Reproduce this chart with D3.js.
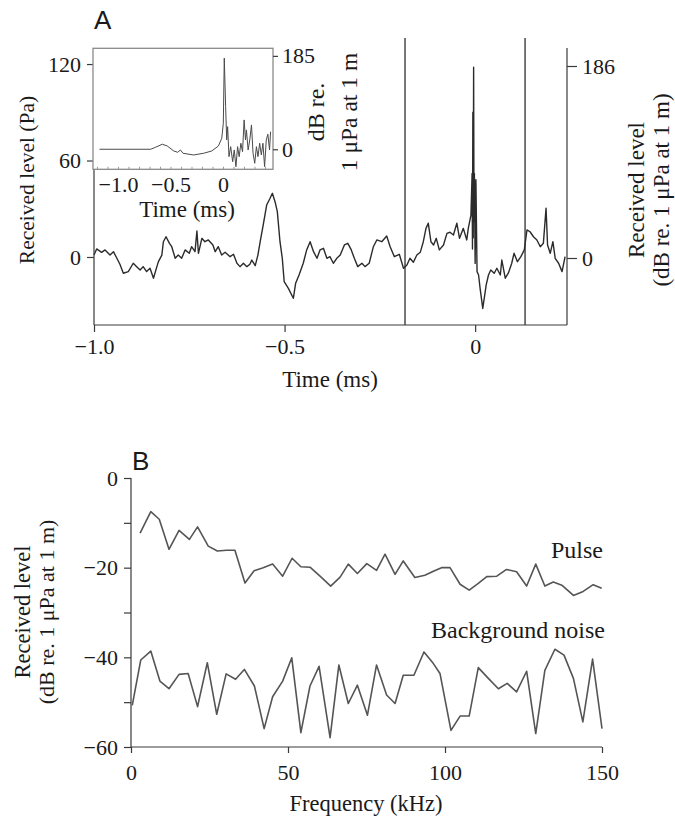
<!DOCTYPE html>
<html>
<head>
<meta charset="utf-8">
<script src="https://cdn.jsdelivr.net/npm/d3@7"></script>
<style>
  html, body { margin: 0; padding: 0; background: #fff; }
  svg { display: block; }
  text { font-family: "Liberation Serif", "Times New Roman", serif; fill: #1a1a1a; }
  text.panel { font-family: "Liberation Sans", Arial, sans-serif; }
</style>
</head>
<body>
<svg id="chart" width="675" height="824"></svg>
<script>
// ---------------- Panel A: waveform ----------------
const timeA = [-1.000,-0.993,-0.980,-0.971,-0.958,-0.949,-0.940,-0.932,-0.923,-0.910,-0.897,-0.888,-0.879,-0.871,-0.862,-0.853,-0.844,-0.835,-0.831,-0.822,-0.818,-0.811,-0.802,-0.796,-0.787,-0.779,-0.770,-0.761,-0.750,-0.744,-0.735,-0.730,-0.726,-0.717,-0.709,-0.700,-0.688,-0.682,-0.674,-0.665,-0.656,-0.643,-0.634,-0.625,-0.617,-0.608,-0.599,-0.591,-0.586,-0.577,-0.570,-0.564,-0.556,-0.547,-0.538,-0.532,-0.525,-0.519,-0.512,-0.506,-0.501,-0.490,-0.477,-0.471,-0.462,-0.451,-0.442,-0.433,-0.424,-0.415,-0.407,-0.398,-0.389,-0.381,-0.372,-0.363,-0.354,-0.343,-0.334,-0.325,-0.317,-0.308,-0.297,-0.289,-0.278,-0.267,-0.258,-0.245,-0.232,-0.223,-0.212,-0.199,-0.188,-0.179,-0.171,-0.162,-0.153,-0.144,-0.136,-0.129,-0.123,-0.116,-0.109,-0.102,-0.094,-0.083,-0.074,-0.066,-0.057,-0.048,-0.041,-0.031,-0.022,-0.018,-0.011,-0.008,-0.007,-0.006,-0.005,-0.004,-0.003,-0.002,0.000,0.002,0.005,0.009,0.013,0.020,0.029,0.035,0.041,0.050,0.057,0.066,0.070,0.079,0.087,0.096,0.102,0.111,0.120,0.129,0.136,0.144,0.153,0.162,0.171,0.179,0.186,0.190,0.197,0.204,0.210,0.219,0.228,0.236];
const levelA = [1.2,5.0,2.9,4.4,1.2,3.3,-0.8,-4.5,-10.1,-9.1,-3.9,-6.0,-8.1,-6.0,-9.1,-7.0,-13.2,-6.0,-2.9,1.2,9.5,12.6,8.5,6.4,-0.8,1.2,-0.8,4.4,2.3,6.4,3.3,16.2,2.3,11.6,9.5,10.6,7.5,3.3,6.4,1.2,2.9,0.2,1.7,-3.9,-6.0,-3.9,-6.0,-4.5,-1.9,-5.4,1.2,9.5,19.9,32.3,36.5,39.6,34.4,28.2,9.5,-0.8,-15.4,-19.5,-25.7,-16.4,-11.2,-3.9,4.4,9.5,3.3,-0.8,4.4,5.4,-0.8,0.2,-3.9,-0.8,1.2,7.5,8.5,4.4,-0.8,-6.0,-3.9,-6.0,-3.9,6.4,10.6,9.5,13.1,6.4,0.2,1.7,-7.0,-5.0,-0.8,-3.3,1.2,2.9,9.5,17.8,21.0,9.5,7.5,11.6,4.4,7.5,14.7,15.4,13.7,21.0,11.6,17.8,10.6,17.8,26.1,52,5,90,12,118,22,52,-4,48,-9.1,-11.2,-19.5,-32.0,-17.4,-11.2,-8.1,-10.1,-7.0,-11.2,-1.9,-13.2,-10.1,-3.9,2.3,-2.9,0.2,4.4,16.8,15.7,12.6,10.6,6.4,8.5,30.3,7.5,2.3,9.5,-0.8,-3.9,-9.1,0.2];
const markerTimes = [-0.184, 0.131];
const ticksA = [-1.0, -0.5, 0];
const ticksPa = [0, 60, 120];
const ticksDbA = [0, 186];

// ---------------- Panel A inset: envelope in dB ----------------
const timeInset = [-1.176,-0.689,-0.642,-0.578,-0.531,-0.469,-0.431,-0.406,-0.380,-0.280,-0.186,-0.107,-0.044,-0.012,0.003,0.012,0.025,0.035,0.044,0.057,0.073,0.092,0.107,0.123,0.139,0.154,0.170,0.186,0.201,0.214,0.223,0.239,0.255,0.271,0.286,0.302,0.318,0.333,0.349,0.365,0.380,0.396,0.412,0.427,0.443,0.453];
const dbInset = [0,0,4,10,6.5,-3.4,-6,-1.4,-8,-11.3,-8,-3.4,6.5,21.8,51.6,180.6,84.5,18.5,44.8,-14.7,5.2,-24.6,-1.4,-34.5,5.2,-14.7,11.9,-4.8,58.1,18.5,38.3,-1.4,18.5,48.2,-8,-27.8,5.2,-14.7,11.9,-11.3,11.9,-34.5,18.5,29.8,-1.4,34.9];
const ticksInsetT = [-1.0, -0.5, 0];
const ticksInsetDb = [0, 185];

// ---------------- Panel B: spectra ----------------
const freqPulse = [2.9,6.3,9.0,12.1,15.3,18.6,21.2,24.6,27.5,30.5,33.1,36.3,39.2,42.1,45.1,48.3,51.3,54.1,57.0,60.2,63.6,66.6,69.2,72.1,75.1,78.2,80.9,84.1,86.7,90.4,93.6,96.3,98.9,101.6,104.8,107.7,110.6,113.3,116.5,119.6,122.8,126.0,128.9,131.8,134.5,137.2,140.9,144.0,147.2,149.9];
const pulseDb = [-12.3,-7.5,-9.2,-15.9,-11.7,-13.7,-10.9,-15.2,-16.3,-16.1,-16.1,-23.4,-20.7,-20.0,-19.2,-21.9,-17.9,-19.8,-19.9,-21.9,-24.1,-22.1,-19.2,-21.3,-19.1,-20.6,-17.0,-21.5,-18.5,-22.2,-21.7,-20.8,-20.0,-20.0,-23.7,-25.0,-23.5,-22.0,-21.9,-20.4,-20.9,-24.1,-19.2,-24.1,-23.2,-23.9,-26.2,-25.3,-23.8,-24.6];
const freqNoise = [0.4,3.1,6.3,9.2,12.1,15.3,18.2,21.2,24.3,27.3,30.3,33.3,36.1,39.3,42.4,45.1,48.3,51.2,54.1,57.0,59.9,63.4,66.2,69.2,72.1,75.3,78.2,81.4,84.1,86.7,90.1,93.3,96.3,98.4,101.9,104.8,107.7,110.6,113.8,117.0,119.8,122.8,126.0,128.9,131.8,135.0,137.9,140.9,143.9,147.0,150.0];
const noiseDb = [-50.7,-40.6,-38.6,-45.3,-47.0,-43.8,-43.6,-51.0,-41.2,-52.7,-43.7,-44.9,-42.7,-46.4,-55.9,-48.8,-45.3,-40.1,-56.8,-46.4,-42.0,-57.9,-41.7,-50.3,-46.2,-52.9,-41.7,-48.4,-50.3,-44.0,-44.0,-38.8,-41.4,-43.6,-56.3,-53.1,-53.1,-42.3,-44.7,-47.0,-45.8,-47.7,-43.1,-57.0,-42.9,-38.2,-39.5,-44.7,-54.4,-40.4,-55.9];
const ticksFreq = [0, 50, 100, 150];
const ticksDbB = [0, -10, -20, -30, -40, -50, -60];
const labelTicksDbB = [0, -20, -40, -60];

const svg = d3.select("#chart");
const AX = "#3a3a3a";
const FS = 23;
const TFS = 22;

function styleAxis(g, size) {
  g.selectAll("path.domain").remove();
  g.selectAll(".tick line").attr("stroke", AX).attr("stroke-width", 1.2);
  g.selectAll(".tick text").attr("font-size", size || TFS).attr("fill", "#1a1a1a");
}
function vline(x, y1, y2, color, w) {
  svg.append("line").attr("x1", x).attr("x2", x).attr("y1", y1).attr("y2", y2)
    .attr("stroke", color || AX).attr("stroke-width", w || 1.2);
}
function hline(y, x1, x2, color, w) {
  svg.append("line").attr("x1", x1).attr("x2", x2).attr("y1", y).attr("y2", y)
    .attr("stroke", color || AX).attr("stroke-width", w || 1.2);
}
function rotText(x, y, txt, size) {
  svg.append("text").attr("transform", `translate(${x},${y}) rotate(-90)`)
    .attr("text-anchor", "middle").attr("font-size", size || FS).text(txt);
}
const fmtT = d => d === 0 ? "0" : d3.format(".1f")(d);

// ================= PANEL A =================
const xA = d3.scaleLinear().domain([-1.0, 0.241]).range([94, 567]);
const yA = d3.scaleLinear().domain([-42.3, 136.2]).range([325, 38]);
const yR = d3.scaleLinear().domain([0, 186]).range([258, 66]);

// window markers
markerTimes.forEach(t => vline(xA(t), yA(136.2), yA(-42.3), "#555", 1.6));

// waveform
const waveA = timeA.map((t, i) => [t, levelA[i]]);
svg.append("path").datum(waveA)
  .attr("fill", "none").attr("stroke", "#2b2b2b").attr("stroke-width", 1.4).attr("stroke-linejoin", "round")
  .attr("d", d3.line().x(d => xA(d[0])).y(d => yA(d[1])));

// axes A
vline(94, 50, 325);
hline(325, 94, 567);
vline(567, 48, 325);
svg.append("g").attr("transform", "translate(94,0)")
  .call(d3.axisLeft(yA).tickValues(ticksPa).tickSize(7).tickSizeOuter(0).tickPadding(6))
  .call(g => styleAxis(g));
svg.append("g").attr("transform", "translate(0,325)")
  .call(d3.axisBottom(xA).tickValues(ticksA).tickFormat(fmtT).tickSize(7).tickSizeOuter(0).tickPadding(6))
  .call(g => styleAxis(g));
svg.append("g").attr("transform", "translate(567,0)")
  .call(d3.axisRight(yR).tickValues(ticksDbA).tickSize(10).tickSizeOuter(0).tickPadding(5))
  .call(g => styleAxis(g));

svg.append("text").attr("x", 330).attr("y", 387).attr("text-anchor", "middle").attr("font-size", FS).text("Time (ms)");
rotText(34, 180, "Received level (Pa)", 21.5);
rotText(644, 190, "Received level");
rotText(669, 190, "(dB re. 1 \u03bcPa at 1 m)");
svg.append("text").attr("class", "panel").attr("x", 94).attr("y", 29).attr("font-size", 26).text("A");

// ---- inset ----
const xI = d3.scaleLinear().domain([-1.238, 0.476]).range([93, 273]);
const yI = d3.scaleLinear().domain([-39.7, 200]).range([169.3, 48.3]);
svg.append("rect").attr("x", 93).attr("y", 48.3).attr("width", 180).attr("height", 121)
  .attr("fill", "#fff").attr("stroke", "#8a8a8a").attr("stroke-width", 1.3);
svg.append("g").attr("transform", "translate(0,169.3)")
  .call(d3.axisBottom(xI).tickValues(d3.range(-1.2, 0.45, 0.1)).tickSize(-2.5).tickFormat(""))
  .call(g => { g.selectAll("path.domain").remove(); g.selectAll(".tick line").attr("stroke", "#999"); });
svg.append("g").attr("transform", "translate(0,169.3)")
  .call(d3.axisBottom(xI).tickValues(ticksInsetT).tickFormat(fmtT).tickSize(0).tickPadding(7))
  .call(g => styleAxis(g));
svg.append("g").attr("transform", "translate(273,0)")
  .call(d3.axisRight(yI).tickValues(ticksInsetDb).tickSize(5).tickSizeOuter(0).tickPadding(4))
  .call(g => styleAxis(g));
const insetData = timeInset.map((t, i) => [t, dbInset[i]]);
svg.append("path").datum(insetData)
  .attr("fill", "none").attr("stroke", "#4a4a4a").attr("stroke-width", 1).attr("stroke-linejoin", "round")
  .attr("d", d3.line().x(d => xI(d[0])).y(d => yI(d[1])));
svg.append("text").attr("x", 187).attr("y", 217).attr("text-anchor", "middle").attr("font-size", FS).text("Time (ms)");
rotText(324, 112, "dB re.", 24);
rotText(357, 112, "1 \u03bcPa at 1 m", 23.5);

// ================= PANEL B =================
const xB = d3.scaleLinear().domain([0, 150]).range([131, 602]);
const yB = d3.scaleLinear().domain([-60, 0]).range([747, 478]);
vline(131, 478, 747);
hline(747, 131, 602);
svg.append("g").attr("transform", "translate(131,0)")
  .call(d3.axisLeft(yB).tickValues(ticksDbB).tickSize(7).tickSizeOuter(0).tickPadding(6)
    .tickFormat(d => labelTicksDbB.includes(d) ? d3.format("d")(d) : ""))
  .call(g => styleAxis(g));
svg.append("g").attr("transform", "translate(0,747)")
  .call(d3.axisBottom(xB).tickValues(ticksFreq).tickSize(6).tickSizeOuter(0).tickPadding(11))
  .call(g => styleAxis(g));

const lineB = d3.line().x(d => xB(d[0])).y(d => yB(d[1]));
svg.append("path").datum(freqPulse.map((f, i) => [f, pulseDb[i]]))
  .attr("fill", "none").attr("stroke", "#555").attr("stroke-width", 1.6).attr("stroke-linejoin", "round").attr("d", lineB);
svg.append("path").datum(freqNoise.map((f, i) => [f, noiseDb[i]]))
  .attr("fill", "none").attr("stroke", "#555").attr("stroke-width", 1.6).attr("stroke-linejoin", "round").attr("d", lineB);

svg.append("text").attr("x", 603).attr("y", 558).attr("text-anchor", "end").attr("font-size", 24).text("Pulse");
svg.append("text").attr("x", 605).attr("y", 638).attr("text-anchor", "end").attr("font-size", 24).text("Background noise");
svg.append("text").attr("x", 366).attr("y", 811).attr("text-anchor", "middle").attr("font-size", 22.5).text("Frequency (kHz)");
rotText(30, 612, "Received level", 22.5);
rotText(54, 612, "(dB re. 1 \u03bcPa at 1 m)", 22);
svg.append("text").attr("class", "panel").attr("x", 132).attr("y", 470).attr("font-size", 26).text("B");
</script>
</body>
</html>
